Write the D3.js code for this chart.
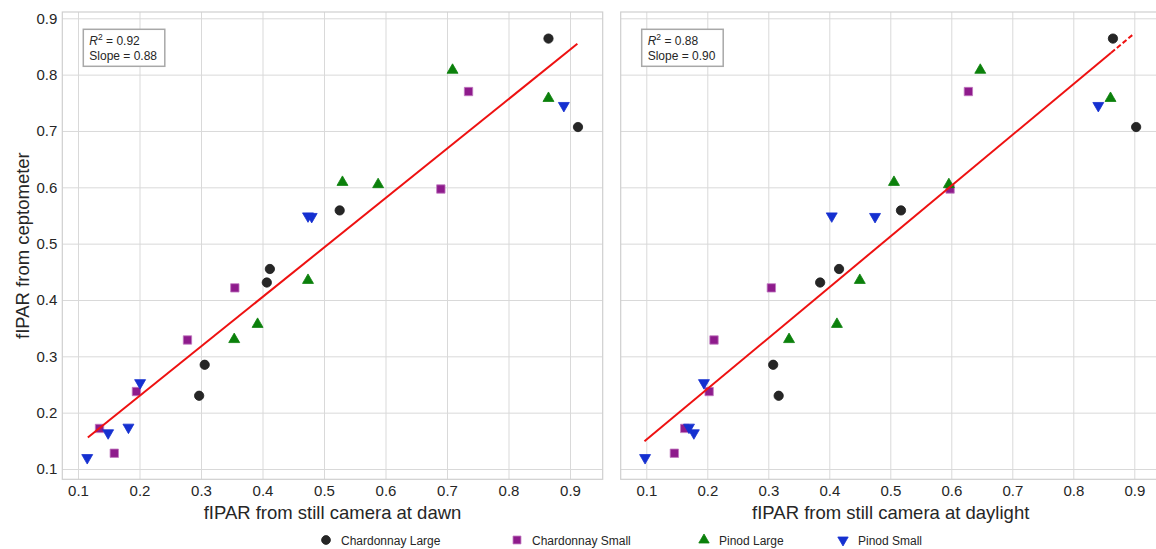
<!DOCTYPE html>
<html>
<head>
<meta charset="utf-8">
<script src="https://cdn.jsdelivr.net/npm/d3@7"></script>
<style>
  html, body { margin: 0; padding: 0; background: #fff; }
  svg { display: block; font-family: "Liberation Sans", Arial, sans-serif; }
</style>
</head>
<body>
<svg id="chart" width="1156" height="549"></svg>
<script>
// ---------------- DATA ----------------
const seriesNames = ["Chardonnay Large", "Chardonnay Small", "Pinod Large", "Pinod Small"];
const tickValues = [0.1, 0.2, 0.3, 0.4, 0.5, 0.6, 0.7, 0.8, 0.9];
const panelTitles = ["fIPAR from still camera at dawn", "fIPAR from still camera at daylight"];
const yTitle = "fIPAR from ceptometer";

// y values (ceptometer), shared by both panels
const chardLargeY = [0.864, 0.707, 0.559, 0.455, 0.431, 0.285, 0.230];
const chardSmallY = [0.770, 0.597, 0.4215, 0.329, 0.2375, 0.172, 0.128];
const pinodLargeY = [0.808, 0.758, 0.609, 0.605, 0.435, 0.357, 0.330];
const pinodSmallY = [0.745, 0.549, 0.548, 0.253, 0.174, 0.164, 0.120];

// x values, dawn panel
const chardLargeDawn = [0.865, 0.913, 0.5255, 0.412, 0.407, 0.306, 0.297];
const chardSmallDawn = [0.735, 0.690, 0.355, 0.278, 0.195, 0.135, 0.159];
const pinodLargeDawn = [0.709, 0.865, 0.530, 0.588, 0.474, 0.392, 0.354];
const pinodSmallDawn = [0.890, 0.474, 0.480, 0.201, 0.182, 0.149, 0.115];

// x values, daylight panel (same order as the y arrays)
const chardLargeDay = [0.865, 0.903, 0.5175, 0.416, 0.385, 0.308, 0.317];
const chardSmallDay = [0.628, 0.598, 0.305, 0.211, 0.203, 0.163, 0.146];
const pinodLargeDay = [0.6475, 0.861, 0.506, 0.596, 0.450, 0.4125, 0.334];
const pinodSmallDay = [0.841, 0.404, 0.475, 0.1945, 0.170, 0.178, 0.098];

// regression fits
const fitSlope = [0.878, 0.9016];
const fitIntercept = [0.054, 0.0617];
const fitStart = [0.116, 0.097];
const fitSolidEnd = [0.912, 0.862];
const fitEnd = [0.912, 0.900];
const r2Text = ["0.92", "0.88"];
const slopeText = ["0.88", "0.90"];

// ---------------- STYLE ----------------
const colors = ["#262626", "#8e1b8c", "#0b800b", "#1530d0"];
const strokes = ["#1a1a1a", "#c27ac0", "#0b800b", "#1530d0"];
const shapes = [d3.symbolCircle, d3.symbolSquare, d3.symbolTriangle, d3.symbolTriangle];
const rotations = [0, 0, 0, 180];
const sizes = [68, 70, 52, 52];

const svg = d3.select("#chart");
const defs = svg.append("defs");

const panels = [
  { box: [62.3, 602.7], xr: [78, 570],
    xs: [chardLargeDawn, chardSmallDawn, pinodLargeDawn, pinodSmallDawn] },
  { box: [620.7, 1160.7], xr: [646.3, 1134.3],
    xs: [chardLargeDay, chardSmallDay, pinodLargeDay, pinodSmallDay] }
];
const ys = [chardLargeY, chardSmallY, pinodLargeY, pinodSmallY];
const yTop = 12, yBot = 479.3;
const y = d3.scaleLinear().domain([0.1, 0.9]).range([469, 18.3]);

panels.forEach((p, pi) => {
  const x = d3.scaleLinear().domain([0.1, 0.9]).range(p.xr);
  const g = svg.append("g");
  const clipId = "clip" + pi;
  defs.append("clipPath").attr("id", clipId)
    .append("rect").attr("x", p.box[0]).attr("y", yTop)
    .attr("width", p.box[1] - p.box[0]).attr("height", yBot - yTop);

  // grid (vertical) + x tick labels
  const gx = g.append("g").attr("transform", `translate(0,${yBot})`)
    .call(d3.axisBottom(x).tickValues(tickValues).tickSize(-(yBot - yTop)).tickFormat(d3.format(".1f")).tickPadding(6));
  gx.select(".domain").remove();
  gx.selectAll(".tick line").attr("stroke", "#d9d9d9").attr("stroke-width", 1);
  gx.selectAll(".tick text").attr("fill", "#262626").attr("font-size", 15)
    .attr("font-family", "'Liberation Sans', Arial, sans-serif");

  // grid (horizontal) + y tick labels
  const gy = g.append("g").attr("transform", `translate(${p.box[0]},0)`)
    .call(d3.axisLeft(y).tickValues(tickValues).tickSize(-(p.box[1] - p.box[0])).tickFormat(d3.format(".1f")).tickPadding(5));
  gy.select(".domain").remove();
  gy.selectAll(".tick line").attr("stroke", "#d9d9d9").attr("stroke-width", 1);
  gy.selectAll(".tick text").attr("fill", "#262626").attr("font-size", 15)
    .attr("font-family", "'Liberation Sans', Arial, sans-serif");
  if (pi === 1) gy.selectAll(".tick text").remove();

  // frame
  g.append("rect").attr("x", p.box[0]).attr("y", yTop)
    .attr("width", p.box[1] - p.box[0]).attr("height", yBot - yTop)
    .attr("fill", "none").attr("stroke", "#cfcfcf").attr("stroke-width", 1.2);

  const plot = g.append("g").attr("clip-path", `url(#${clipId})`);

  // points
  p.xs.forEach((xsArr, si) => {
    const sym = d3.symbol().type(shapes[si]).size(sizes[si]);
    plot.selectAll(null).data(xsArr.map((xv, i) => [xv, ys[si][i]])).enter()
      .append("path")
      .attr("d", sym)
      .attr("transform", d => `translate(${x(d[0])},${y(d[1])}) rotate(${rotations[si]})`)
      .attr("fill", colors[si])
      .attr("stroke", strokes[si])
      .attr("stroke-width", 0.8);
  });

  // regression line
  const f = v => fitIntercept[pi] + fitSlope[pi] * v;
  const line = d3.line().x(d => x(d)).y(d => y(f(d)));
  plot.append("path").datum([fitStart[pi], fitSolidEnd[pi]]).attr("d", line)
    .attr("stroke", "#ee1111").attr("stroke-width", 2).attr("fill", "none");
  if (fitEnd[pi] > fitSolidEnd[pi]) {
    plot.append("path").datum([fitSolidEnd[pi], fitEnd[pi]]).attr("d", line)
      .attr("stroke", "#ee1111").attr("stroke-width", 2).attr("fill", "none")
      .attr("stroke-dasharray", "5,2.5");
  }

  // annotation box
  const bx = p.box[0] + 21, byy = 29.3;
  g.append("rect").attr("x", bx).attr("y", byy).attr("width", 81.5).attr("height", 37)
    .attr("fill", "#fff").attr("stroke", "#a8a8a8").attr("stroke-width", 1.5);
  const t1 = g.append("text").attr("x", bx + 6).attr("y", byy + 15.5)
    .attr("font-size", 12).attr("fill", "#262626");
  t1.append("tspan").attr("font-style", "italic").text("R");
  t1.append("tspan").attr("font-size", 8.5).attr("dy", -5).text("2");
  t1.append("tspan").attr("dy", 5).text(" = " + r2Text[pi]);
  g.append("text").attr("x", bx + 6).attr("y", byy + 30.5)
    .attr("font-size", 12).attr("fill", "#262626").text("Slope = " + slopeText[pi]);

  // x title
  g.append("text").attr("x", (p.box[0] + p.box[1]) / 2).attr("y", 519)
    .attr("text-anchor", "middle").attr("font-size", 18.5).attr("fill", "#262626")
    .text(panelTitles[pi]);
});

// y title
svg.append("text").attr("transform", "translate(29,245.6) rotate(-90)")
  .attr("text-anchor", "middle").attr("font-size", 18.5).attr("fill", "#262626")
  .text(yTitle);

// legend
const legendX = [326, 517, 704, 843];
const lg = svg.append("g");
seriesNames.forEach((name, si) => {
  const sym = d3.symbol().type(shapes[si]).size(sizes[si] * 0.9);
  lg.append("path").attr("d", sym)
    .attr("transform", `translate(${legendX[si]},540) rotate(${rotations[si]})`)
    .attr("fill", colors[si]).attr("stroke", strokes[si]).attr("stroke-width", 0.8);
  lg.append("text").attr("x", legendX[si] + 15).attr("y", 544.5)
    .attr("font-size", 12).attr("fill", "#262626").text(name);
});
</script>
</body>
</html>
